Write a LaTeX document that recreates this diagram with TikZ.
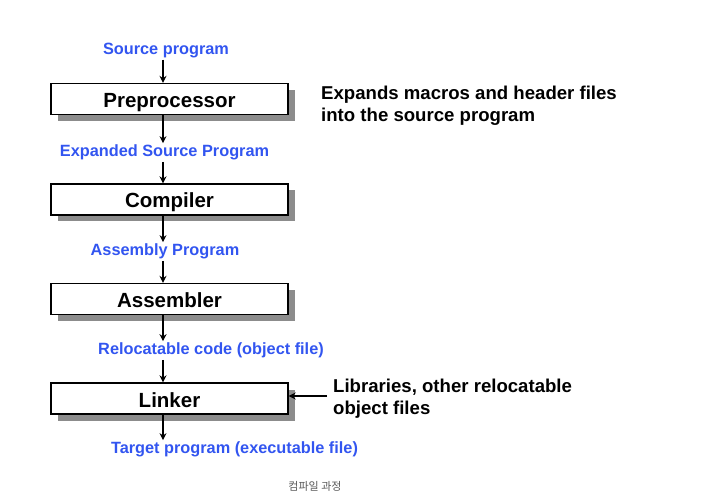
\documentclass[tikz,border=0pt]{standalone}
\usepackage{fontspec}
\setmainfont{Liberation Sans}
\newfontfamily\krfont{Noto Sans CJK KR}
\usetikzlibrary{arrows.meta,shadows}
\definecolor{lblblue}{RGB}{50,85,240}
\definecolor{shadowgray}{RGB}{140,140,140}
\begin{document}
\begin{tikzpicture}[x=1pt,y=-1pt,
  stagebox/.style={draw=black,line width=1.3pt,fill=white,minimum width=237pt,minimum height=31pt,
    inner sep=0pt,text height=17pt,text depth=0pt,font=\fontsize{20.5}{24}\selectfont\bfseries,
    drop shadow={shadow xshift=6.5pt,shadow yshift=-6.5pt,fill=shadowgray,opacity=1}},
  lbl/.style={text=lblblue,font=\fontsize{16.3}{19}\selectfont\bfseries,inner sep=1.5pt},
  note/.style={align=left,anchor=west,font=\fontsize{18.6}{22}\selectfont\bfseries,inner sep=0pt},
  arr/.style={line width=1.8pt,-{Stealth[length=7pt,width=7pt]}}]
\useasboundingbox (0,0) rectangle (709,502);
\coordinate (ax) at (163,0);
\node[lbl] (src) at (166,50.5) {Source program};
\node[stagebox] (pre) at (169.5,99) {Preprocessor};
\node[lbl] (exp) at (164.5,152.5) {Expanded Source Program};
\node[stagebox] (comp) at (169.5,199.5) {Compiler};
\node[lbl] (asmp) at (165,251.5) {Assembly Program};
\node[stagebox] (asm) at (169.5,299) {Assembler};
\node[lbl] (rel) at (211,350.5) {Relocatable code (object file)};
\node[stagebox] (lnk) at (169.5,398.5) {Linker};
\node[lbl] (tgt) at (234.5,449.5) {Target program (executable file)};
\node[note] (n1) at (321,106) {Expands macros and header files\\into the source program};
\node[note] (n2) at (333,399) {Libraries, other relocatable\\object files};
\coordinate (libstart) at (327,396);
\node[text=black!65,font=\krfont\fontsize{11}{13}\selectfont] (cap) at (315,486) {컴파일 과정};
\draw[arr] (src.south -| ax) -- (pre.north -| ax);
\draw[arr] (pre.south -| ax) -- (exp.north -| ax);
\draw[arr] (exp.south -| ax) -- (comp.north -| ax);
\draw[arr] (comp.south -| ax) -- (asmp.north -| ax);
\draw[arr] (asmp.south -| ax) -- (asm.north -| ax);
\draw[arr] (asm.south -| ax) -- (rel.north -| ax);
\draw[arr] (rel.south -| ax) -- (lnk.north -| ax);
\draw[arr] (lnk.south -| ax) -- (tgt.north -| ax);
\draw[arr] (libstart) -- (libstart -| lnk.east);
\end{tikzpicture}
\end{document}
